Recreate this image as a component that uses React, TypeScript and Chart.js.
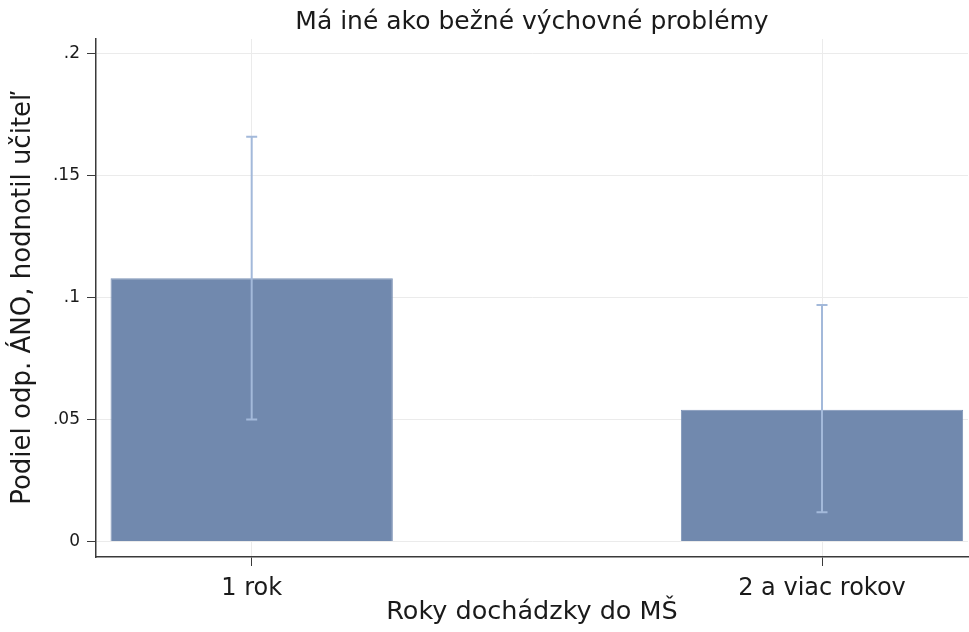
import React, { useEffect, useRef } from "react";
import { Chart, registerables } from "chart.js";

Chart.register(...registerables);

const chartTitle = "Má iné ako bežné výchovné problémy";
const yAxisTitle = "Podiel odp. ÁNO, hodnotil učiteľ";
const xAxisTitle = "Roky dochádzky do MŠ";
const categories = ["1 rok", "2 a viac rokov"];
const categoryPositions = [1, 2];
const shareValues = [0.108, 0.054];
const ciLower = [0.05, 0.012];
const ciUpper = [0.166, 0.097];
const yTickValues = [0, 0.05, 0.1, 0.15, 0.2];
const yTickLabels = ["0", ".05", ".1", ".15", ".2"];

const FONT = "'DejaVu Sans', sans-serif";
const BAR_COLOR = "#7189ae";
const ERR_COLOR = "#a3b9da";
const GRID_COLOR = "#ebebeb";
const AXIS_COLOR = "#3a3a3a";
const TEXT_COLOR = "#1a1a1a";

const errorBarPlugin = {
  id: "errorBars",
  afterDatasetsDraw(chart: any) {
    const { ctx, scales } = chart;
    const x = scales.x;
    const y = scales.y;
    ctx.save();
    ctx.strokeStyle = ERR_COLOR;
    ctx.lineWidth = 2;
    categoryPositions.forEach((pos, i) => {
      const px = x.getPixelForValue(pos);
      const top = y.getPixelForValue(ciUpper[i]);
      const bot = y.getPixelForValue(ciLower[i]);
      ctx.beginPath();
      ctx.moveTo(px, top);
      ctx.lineTo(px, bot);
      ctx.moveTo(px - 5.5, top);
      ctx.lineTo(px + 5.5, top);
      ctx.moveTo(px - 5.5, bot);
      ctx.lineTo(px + 5.5, bot);
      ctx.stroke();
    });
    ctx.restore();
  },
};

export default function App() {
  const canvasRef = useRef<HTMLCanvasElement | null>(null);

  useEffect(() => {
    const canvas = canvasRef.current;
    if (!canvas) return;
    const chart = new Chart(canvas, {
      type: "bar",
      data: {
        datasets: [
          {
            data: categoryPositions.map((p, i) => ({ x: p, y: shareValues[i] })),
            backgroundColor: BAR_COLOR,
            borderColor: "#7d93b6",
            borderWidth: 1,
            barPercentage: 0.495,
            categoryPercentage: 1,
          },
        ],
      },
      options: {
        responsive: false,
        animation: false,
        devicePixelRatio: 1,
        layout: { padding: { left: 0, right: 1, top: 0, bottom: 0 } },
        plugins: {
          legend: { display: false },
          tooltip: { enabled: false },
          title: {
            display: true,
            text: chartTitle,
            fullSize: false,
            color: TEXT_COLOR,
            font: { family: FONT, size: 25, weight: "normal" },
            padding: { top: 7, bottom: 2 },
          },
        },
        scales: {
          x: {
            type: "linear",
            offset: false,
            min: 0.727,
            max: 2.256,
            afterBuildTicks: (scale: any) => {
              scale.ticks = categoryPositions.map((v) => ({ value: v }));
            },
            afterFit: (scale: any) => {
              scale.height = 75;
            },
            ticks: {
              callback: (v: any) => {
                const idx = categoryPositions.indexOf(Number(v));
                return idx >= 0 ? categories[idx] : "";
              },
              color: TEXT_COLOR,
              font: { family: FONT, size: 24 },
              padding: 8,
              maxRotation: 0,
              autoSkip: false,
            },
            grid: {
              offset: false,
              color: GRID_COLOR,
              tickColor: AXIS_COLOR,
              tickLength: 9,
              lineWidth: 1,
            },
            border: { display: true, color: AXIS_COLOR, width: 1.5 },
            title: {
              display: true,
              text: xAxisTitle,
              color: TEXT_COLOR,
              font: { family: FONT, size: 25.5 },
              padding: { top: 0, bottom: 4 },
            },
          },
          y: {
            type: "linear",
            min: -0.0064,
            max: 0.2061,
            afterBuildTicks: (scale: any) => {
              scale.ticks = yTickValues.map((v) => ({ value: v }));
            },
            afterFit: (scale: any) => {
              scale.width = 96;
            },
            ticks: {
              callback: (v: any) => {
                const idx = yTickValues.findIndex((t) => Math.abs(t - Number(v)) < 1e-9);
                return idx >= 0 ? yTickLabels[idx] : "";
              },
              color: TEXT_COLOR,
              font: { family: FONT, size: 17 },
              padding: 7,
            },
            grid: {
              color: GRID_COLOR,
              tickColor: AXIS_COLOR,
              tickLength: 9,
              lineWidth: 1,
            },
            border: { display: true, color: AXIS_COLOR, width: 1.5 },
            title: {
              display: true,
              text: yAxisTitle,
              color: TEXT_COLOR,
              font: { family: FONT, size: 26 },
              padding: { top: 8, bottom: 0 },
            },
          },
        },
      },
      plugins: [errorBarPlugin],
    } as any);
    return () => chart.destroy();
  }, []);

  return (
    <div style={{ position: "fixed", left: 0, top: 0, width: 969, height: 632, background: "#fff" }}>
      <canvas ref={canvasRef} width={969} height={632} style={{ display: "block" }} />
    </div>
  );
}
